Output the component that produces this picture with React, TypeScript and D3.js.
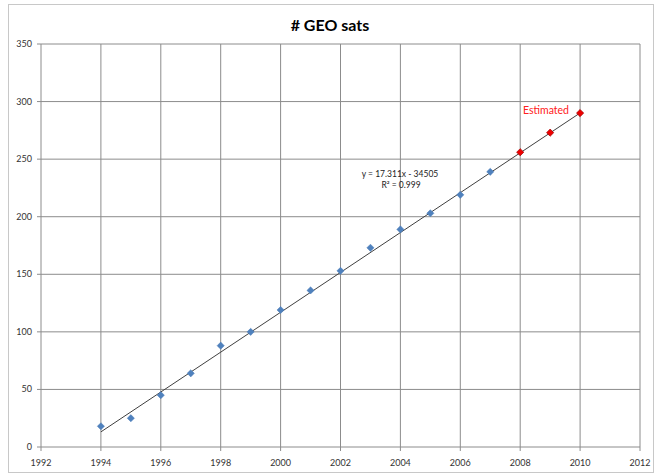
import React from "react";
import * as d3 from "d3";

const years = [1994, 1995, 1996, 1997, 1998, 1999, 2000, 2001, 2002, 2003, 2004, 2005, 2006, 2007];
const sats = [18, 25, 45, 64, 88, 100, 119, 136, 153, 173, 189, 203, 219, 239];
const estYears = [2008, 2009, 2010];
const estSats = [256, 273, 290];
const xTicks = [1992, 1994, 1996, 1998, 2000, 2002, 2004, 2006, 2008, 2010, 2012];
const yTicks = [0, 50, 100, 150, 200, 250, 300, 350];
const trendSlope = 17.311;
const trendIntercept = -34505;
const trendRange = [1994, 2010];

const W = 656, H = 473;
const FONT = "Lato, 'Open Sans', sans-serif";

const diamondPath = (r: number) => {
  const p = d3.path();
  p.moveTo(0, -r);
  p.lineTo(r, 0);
  p.lineTo(0, r);
  p.lineTo(-r, 0);
  p.closePath();
  return p.toString();
};

export default function App() {
  const x = d3.scaleLinear().domain([1992, 2012]).range([41, 640]);
  const y = d3.scaleLinear().domain([0, 350]).range([447, 44]);
  const diamond = diamondPath(3.6);
  const trend = d3.line<number>().x(d => x(d)).y(d => y(trendSlope * d + trendIntercept));
  const grid = "#8c8c8c";
  return (
    <svg width={W} height={H} style={{ position: "absolute", left: 0, top: 0, background: "#fff" }}>
      <rect x={8.5} y={4.5} width={645} height={468} fill="#fff" stroke="#c8c8c8" />
      <text x={330} y={31} textAnchor="middle" fontFamily={FONT} fontWeight="bold" fontSize={16} fill="#000">
        # GEO sats
      </text>
      {yTicks.map(t => (
        <g key={"y" + t}>
          <line x1={37} x2={640} y1={y(t)} y2={y(t)} stroke={grid} strokeWidth={1} />
          <text x={32} y={y(t) + 3} textAnchor="end" fontFamily={FONT} fontSize={9} fill="#333">{t}</text>
        </g>
      ))}
      {xTicks.map(t => (
        <g key={"x" + t}>
          <line x1={x(t)} x2={x(t)} y1={44} y2={451} stroke={grid} strokeWidth={1} />
          <text x={x(t)} y={466} textAnchor="middle" fontFamily={FONT} fontSize={9} fill="#333">{t}</text>
        </g>
      ))}
      <path d={trend(trendRange) || ""} fill="none" stroke="#404040" strokeWidth={1} />
      {years.map((yr, i) => (
        <path key={"p" + yr} d={diamond} transform={`translate(${x(yr)},${y(sats[i])})`} fill="#4f81bd" stroke="#4a7cb8" strokeWidth={0.5} />
      ))}
      {estYears.map((yr, i) => (
        <path key={"e" + yr} d={diamond} transform={`translate(${x(yr)},${y(estSats[i])})`} fill="#ee0000" stroke="#a00000" strokeWidth={0.7} />
      ))}
      <text x={400} y={177} textAnchor="middle" fontFamily={FONT} fontSize={8.5} fill="#222">y = 17.311x - 34505</text>
      <text x={401} y={188} textAnchor="middle" fontFamily={FONT} fontSize={8.5} fill="#222">R² = 0.999</text>
      <text x={546} y={114} textAnchor="middle" fontFamily={FONT} fontSize={10.5} fill="#ff2020">Estimated</text>
    </svg>
  );
}
